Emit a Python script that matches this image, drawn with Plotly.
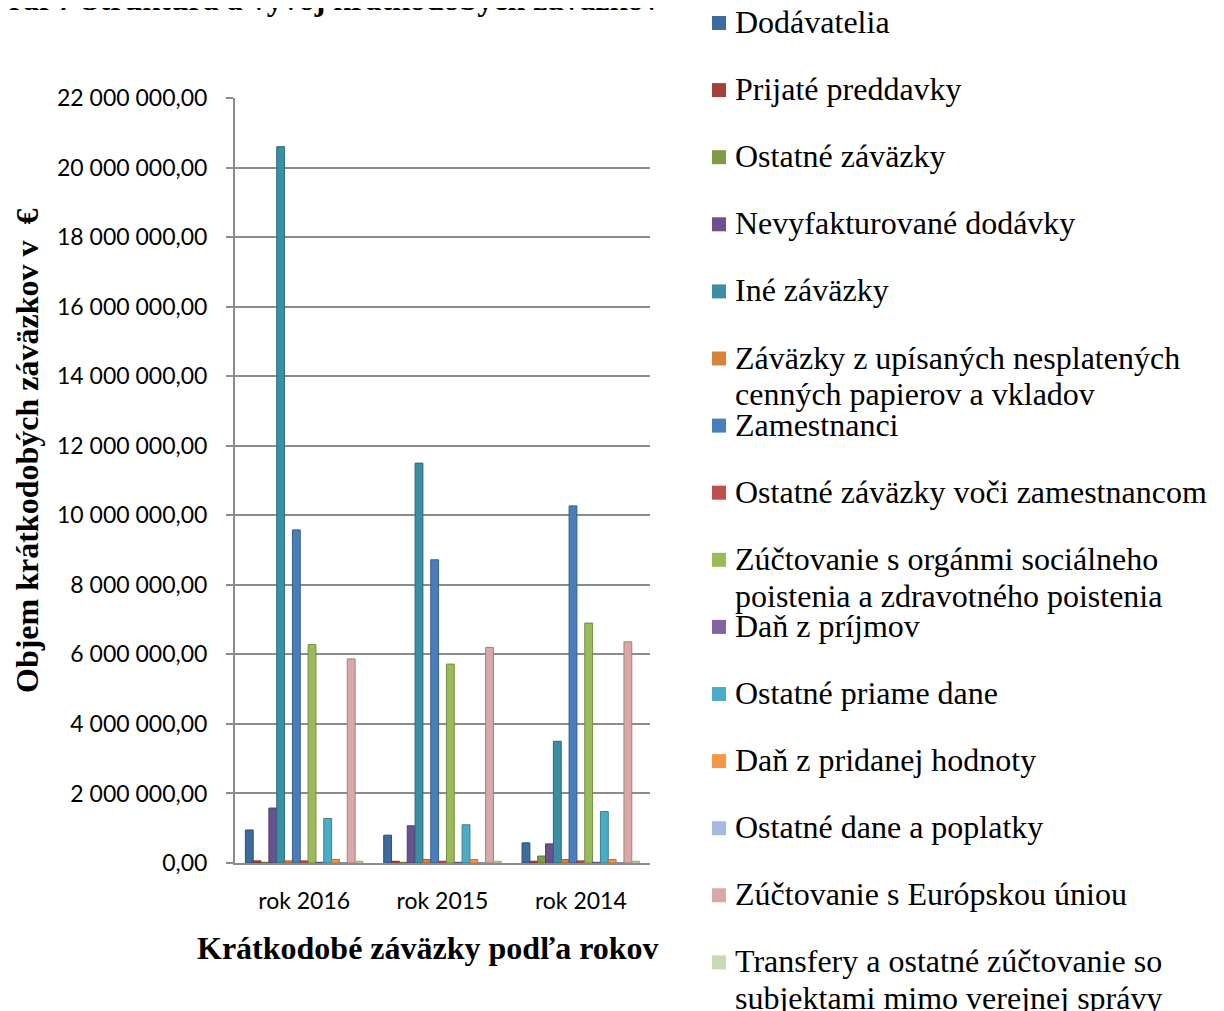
import plotly.graph_objects as go

categories = ["rok 2016", "rok 2015", "rok 2014"]

series_names = [
    "Dodávatelia",
    "Prijaté preddavky",
    "Ostatné záväzky",
    "Nevyfakturované dodávky",
    "Iné záväzky",
    "Záväzky z upísaných nesplatených<br>cenných papierov a vkladov",
    "Zamestnanci",
    "Ostatné záväzky voči zamestnancom",
    "Zúčtovanie s orgánmi sociálneho<br>poistenia a zdravotného poistenia",
    "Daň z príjmov",
    "Ostatné priame dane",
    "Daň z pridanej hodnoty",
    "Ostatné dane a poplatky",
    "Zúčtovanie s Európskou úniou",
    "Transfery a ostatné zúčtovanie so<br>subjektami mimo verejnej správy",
]

dodavatelia = [950000, 800000, 580000]
prijate_preddavky = [60000, 50000, 50000]
ostatne_zavazky = [20000, 20000, 200000]
nevyfakturovane = [1580000, 1070000, 550000]
ine_zavazky = [20600000, 11500000, 3500000]
zavazky_upisanych = [60000, 100000, 100000]
zamestnanci = [9580000, 8720000, 10270000]
ostatne_voci_zam = [60000, 50000, 60000]
zuctovanie_organy = [6280000, 5720000, 6900000]
dan_z_prijmov = [20000, 20000, 20000]
ostatne_priame_dane = [1280000, 1100000, 1480000]
dph = [100000, 100000, 100000]
ostatne_dane = [10000, 10000, 10000]
zuctovanie_eu = [5870000, 6200000, 6360000]
transfery = [50000, 50000, 50000]

values = [
    dodavatelia, prijate_preddavky, ostatne_zavazky, nevyfakturovane, ine_zavazky,
    zavazky_upisanych, zamestnanci, ostatne_voci_zam, zuctovanie_organy, dan_z_prijmov,
    ostatne_priame_dane, dph, ostatne_dane, zuctovanie_eu, transfery,
]

colors = [
    "#3F6A9E", "#A3403D", "#7F9B43", "#6A5290", "#3A8FA3",
    "#D9823A", "#4A7EBB", "#C0504D", "#9BBB59", "#8064A2",
    "#4BACC6", "#F79646", "#A7B9DC", "#D9A9A7", "#C6DAB3",
]
edge_colors = [
    "#2E4F76", "#7A302E", "#5F7432", "#4F3D6C", "#2B6B7A",
    "#A3622B", "#375E8C", "#903C3A", "#748C43", "#604B79",
    "#388194", "#B97035", "#7D8BA5", "#A37F7D", "#95A486",
]

y_ticks = [i * 2000000 for i in range(12)]
y_ticktext = [
    "0,00", "2 000 000,00", "4 000 000,00", "6 000 000,00", "8 000 000,00",
    "10 000 000,00", "12 000 000,00", "14 000 000,00", "16 000 000,00",
    "18 000 000,00", "20 000 000,00", "22 000 000,00",
]

fig = go.Figure()
for name, vals, c, ec in zip(series_names, values, colors, edge_colors):
    fig.add_trace(go.Bar(
        x=categories, y=vals, name=name.replace("<br>", " "),
        marker=dict(color=c, line=dict(color=ec, width=1)),
        showlegend=False,
    ))

W, H = 1224, 1011
OFF = 8  # page body margin
# plot area in screen pixels
L, R, T, B = 235, 650, 98, 863

def px_x(px):
    return (px - L) / (R - L)

def px_y(py):
    return (B - py) / (B - T)

SERIF = "Liberation Serif, Times New Roman, serif"
annotations = []
shapes = []
legend_font = dict(family=SERIF, size=32, color="#000000")
for i, (name, c) in enumerate(zip(series_names, colors)):
    cy = 23 + 67.1 * i
    shapes.append(dict(
        type="rect", xref="paper", yref="paper",
        x0=px_x(712), x1=px_x(726), y0=px_y(cy + 7), y1=px_y(cy - 7),
        fillcolor=c, line=dict(width=0),
    ))
    for k, line in enumerate(name.split("<br>")):
        annotations.append(dict(
            xref="paper", yref="paper", x=px_x(733), y=px_y(cy + 37 * k - 1),
            xanchor="left", yanchor="middle", align="left",
            text=line, showarrow=False, font=legend_font,
        ))

# title (clipped at top, as in the source)
annotations.append(dict(
    xref="paper", yref="paper", x=px_x(662), y=px_y(-1),
    xanchor="right", yanchor="middle", showarrow=False,
    text="<b>Graf 7 Štruktúra a vývoj krátkodobých záväzkov</b>",
    font=dict(family=SERIF, size=32, color="#000000"),
))
# axis titles
annotations.append(dict(
    xref="paper", yref="paper", x=px_x(428), y=px_y(948),
    xanchor="center", yanchor="middle", showarrow=False,
    text="<b>Krátkodobé záväzky podľa rokov</b>",
    font=dict(family=SERIF, size=32, color="#000000"),
))
annotations.append(dict(
    xref="paper", yref="paper", x=px_x(27), y=px_y(451),
    xanchor="center", yanchor="middle", showarrow=False, textangle=-90,
    text="<b>Objem krátkodobých záväzkov v  €</b>",
    font=dict(family=SERIF, size=32, color="#000000"),
))

fig.update_layout(
    width=W, height=H,
    margin=dict(l=L - OFF, r=W - (R - OFF), t=T - OFF, b=H - (B - OFF), pad=0),
    paper_bgcolor="white", plot_bgcolor="white",
    barmode="group", bargap=0.15, bargroupgap=0.0,
    font=dict(family="Lato, Carlito, Calibri, sans-serif", size=23, color="#000000"),
    xaxis=dict(
        showgrid=False, showline=True, linecolor="#8C8C8C", linewidth=2,
        ticks="", tickfont=dict(size=23), ticklabelstandoff=16,
    ),
    yaxis=dict(
        range=[0, 22000000], tickvals=y_ticks, ticktext=y_ticktext,
        showgrid=True, gridcolor="#8C8C8C", gridwidth=2,
        showline=True, linecolor="#8C8C8C", linewidth=2,
        ticks="outside", ticklen=7, tickcolor="#8C8C8C", tickwidth=2,
        tickfont=dict(size=23), zeroline=False, ticklabelstandoff=14,
    ),
    annotations=annotations,
    shapes=shapes,
)

fig.write_html("out.html")
